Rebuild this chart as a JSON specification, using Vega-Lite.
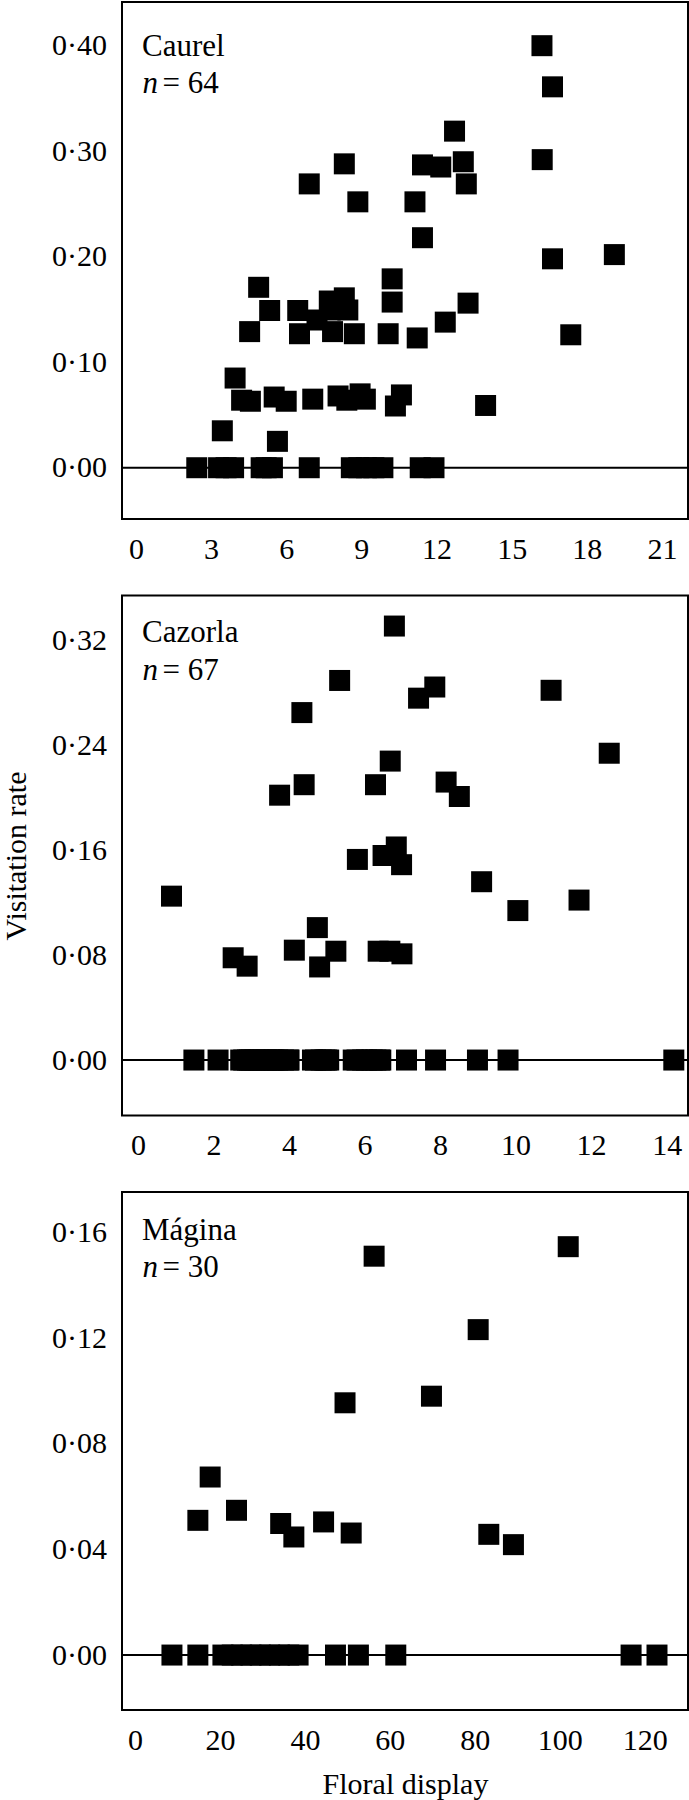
{
  "$schema": "https://vega.github.io/schema/vega-lite/v6.json",
  "padding": {"left": 0, "top": 1, "right": 1, "bottom": 0},
  "background": "white",
  "spacing": 76.5,
  "bounds": "flush",
  "config": {
    "view": {"stroke": "black", "strokeWidth": 2},
    "font": "Liberation Serif",
    "axis": {"domain": false, "ticks": false, "grid": false, "labelFont": "Liberation Serif", "labelFontSize": 30, "labelColor": "black", "titleFont": "Liberation Serif", "titleFontSize": 30, "titleFontWeight": "normal", "titleColor": "black", "labelOverlap": false, "labelFlush": false},
    "axisY": {"labelPadding": 15.5},
    "axisX": {"labelPadding": 30, "labelBaseline": "middle"},
    "text": {"font": "Liberation Serif", "fontSize": 31, "color": "black", "align": "left", "baseline": "alphabetic"}
  },
  "datasets": {
    "caurel": [
      {"display": 16.21, "rate": 0.400}, {"display": 16.63, "rate": 0.361}, {"display": 12.72, "rate": 0.319},
      {"display": 8.32, "rate": 0.288}, {"display": 11.44, "rate": 0.287}, {"display": 12.17, "rate": 0.285},
      {"display": 13.07, "rate": 0.290}, {"display": 16.22, "rate": 0.292}, {"display": 6.92, "rate": 0.269},
      {"display": 13.19, "rate": 0.269}, {"display": 8.86, "rate": 0.252}, {"display": 11.14, "rate": 0.252},
      {"display": 11.44, "rate": 0.218}, {"display": 16.63, "rate": 0.198}, {"display": 19.1, "rate": 0.202},
      {"display": 4.90, "rate": 0.171}, {"display": 10.23, "rate": 0.179},
      {"display": 5.34, "rate": 0.149}, {"display": 6.46, "rate": 0.149}, {"display": 7.72, "rate": 0.158},
      {"display": 8.32, "rate": 0.161}, {"display": 8.46, "rate": 0.1495}, {"display": 7.23, "rate": 0.140},
      {"display": 10.23, "rate": 0.157}, {"display": 13.26, "rate": 0.156}, {"display": 4.54, "rate": 0.129},
      {"display": 6.53, "rate": 0.127}, {"display": 7.85, "rate": 0.129}, {"display": 8.72, "rate": 0.127},
      {"display": 10.07, "rate": 0.127}, {"display": 11.23, "rate": 0.123}, {"display": 12.35, "rate": 0.138},
      {"display": 17.36, "rate": 0.126}, {"display": 7.76, "rate": 0.1495},
      {"display": 3.96, "rate": 0.085}, {"display": 4.22, "rate": 0.064}, {"display": 4.57, "rate": 0.063},
      {"display": 5.52, "rate": 0.067}, {"display": 6.0, "rate": 0.063}, {"display": 7.06, "rate": 0.065},
      {"display": 8.07, "rate": 0.068}, {"display": 8.42, "rate": 0.064}, {"display": 8.95, "rate": 0.070},
      {"display": 9.16, "rate": 0.065}, {"display": 10.6, "rate": 0.069}, {"display": 10.36, "rate": 0.0585},
      {"display": 13.96, "rate": 0.059}, {"display": 3.45, "rate": 0.035}, {"display": 5.65, "rate": 0.025},
      {"display": 2.43, "rate": 0}, {"display": 3.3, "rate": 0}, {"display": 3.6, "rate": 0},
      {"display": 3.9, "rate": 0}, {"display": 5.0, "rate": 0}, {"display": 5.2, "rate": 0},
      {"display": 5.45, "rate": 0}, {"display": 6.92, "rate": 0}, {"display": 8.6, "rate": 0},
      {"display": 8.9, "rate": 0}, {"display": 9.2, "rate": 0}, {"display": 9.5, "rate": 0},
      {"display": 9.86, "rate": 0}, {"display": 11.35, "rate": 0}, {"display": 11.9, "rate": 0}
    ],
    "cazorla": [
      {"display": 6.79, "rate": 0.331}, {"display": 5.34, "rate": 0.2895}, {"display": 7.86, "rate": 0.2845},
      {"display": 7.43, "rate": 0.276}, {"display": 10.94, "rate": 0.282}, {"display": 4.34, "rate": 0.265},
      {"display": 12.48, "rate": 0.234}, {"display": 6.68, "rate": 0.228}, {"display": 4.40, "rate": 0.210},
      {"display": 3.75, "rate": 0.202}, {"display": 6.29, "rate": 0.210}, {"display": 8.16, "rate": 0.212},
      {"display": 8.51, "rate": 0.201}, {"display": 6.84, "rate": 0.1625}, {"display": 6.49, "rate": 0.156},
      {"display": 5.81, "rate": 0.153}, {"display": 6.98, "rate": 0.149}, {"display": 9.1, "rate": 0.136},
      {"display": 0.887, "rate": 0.125}, {"display": 10.06, "rate": 0.114}, {"display": 11.68, "rate": 0.122},
      {"display": 4.75, "rate": 0.101}, {"display": 2.52, "rate": 0.078}, {"display": 2.89, "rate": 0.0716},
      {"display": 4.14, "rate": 0.0838}, {"display": 4.81, "rate": 0.071}, {"display": 5.24, "rate": 0.083},
      {"display": 6.36, "rate": 0.083}, {"display": 6.67, "rate": 0.083}, {"display": 6.99, "rate": 0.081},
      {"display": 1.48, "rate": 0}, {"display": 2.12, "rate": 0}, {"display": 2.72, "rate": 0},
      {"display": 2.95, "rate": 0}, {"display": 3.2, "rate": 0}, {"display": 3.45, "rate": 0},
      {"display": 3.7, "rate": 0}, {"display": 3.98, "rate": 0}, {"display": 4.62, "rate": 0},
      {"display": 4.85, "rate": 0}, {"display": 5.05, "rate": 0}, {"display": 5.70, "rate": 0},
      {"display": 5.95, "rate": 0}, {"display": 6.2, "rate": 0}, {"display": 6.43, "rate": 0},
      {"display": 7.11, "rate": 0}, {"display": 7.88, "rate": 0}, {"display": 8.99, "rate": 0},
      {"display": 9.8, "rate": 0}, {"display": 14.19, "rate": 0}, {"display": 2.8, "rate": 0},
      {"display": 3.0, "rate": 0}, {"display": 3.3, "rate": 0}, {"display": 3.55, "rate": 0},
      {"display": 3.85, "rate": 0}, {"display": 4.7, "rate": 0}, {"display": 4.95, "rate": 0},
      {"display": 5.8, "rate": 0}, {"display": 6.05, "rate": 0}, {"display": 6.3, "rate": 0},
      {"display": 3.1, "rate": 0}, {"display": 3.6, "rate": 0}, {"display": 2.9, "rate": 0},
      {"display": 4.0, "rate": 0}, {"display": 5.0, "rate": 0}, {"display": 6.4, "rate": 0},
      {"display": 3.4, "rate": 0}
    ],
    "magina": [
      {"display": 56.3, "rate": 0.151}, {"display": 102, "rate": 0.1546}, {"display": 80.8, "rate": 0.1232},
      {"display": 49.45, "rate": 0.0955}, {"display": 69.8, "rate": 0.098}, {"display": 17.7, "rate": 0.0674},
      {"display": 14.8, "rate": 0.051}, {"display": 23.9, "rate": 0.0548}, {"display": 34.3, "rate": 0.0498},
      {"display": 37.4, "rate": 0.0447}, {"display": 44.4, "rate": 0.0504}, {"display": 50.9, "rate": 0.0462},
      {"display": 83.3, "rate": 0.0457}, {"display": 89.1, "rate": 0.0418},
      {"display": 8.7, "rate": 0}, {"display": 14.8, "rate": 0}, {"display": 20.7, "rate": 0},
      {"display": 22.9, "rate": 0}, {"display": 25.1, "rate": 0}, {"display": 27.3, "rate": 0},
      {"display": 29.5, "rate": 0}, {"display": 31.7, "rate": 0}, {"display": 34.0, "rate": 0},
      {"display": 36.2, "rate": 0}, {"display": 38.4, "rate": 0}, {"display": 47.2, "rate": 0},
      {"display": 52.6, "rate": 0}, {"display": 61.4, "rate": 0}, {"display": 116.8, "rate": 0},
      {"display": 122.9, "rate": 0}
    ]
  },
  "vconcat": [
    {
      "width": 566, "height": 517,
      "layer": [
        {"data": {"values": [{}]}, "mark": {"type": "rule", "color": "black", "strokeWidth": 2},
          "encoding": {"y": {"datum": 0, "type": "quantitative", "scale": {"domain": [-0.0486, 0.4414], "nice": false, "zero": false}, "axis": {"values": [0, 0.1, 0.2, 0.3, 0.4], "title": null, "labelExpr": "replace(format(datum.value, '.2f'), '.', '·')"}}}},
        {"data": {"name": "caurel"}, "mark": {"type": "square", "size": 441, "color": "black", "opacity": 1},
          "encoding": {
            "x": {"field": "display", "type": "quantitative", "scale": {"domain": [-0.555, 22.04], "nice": false, "zero": false}, "axis": {"values": [0, 3, 6, 9, 12, 15, 18, 21], "title": null}},
            "y": {"field": "rate", "type": "quantitative", "scale": {"domain": [-0.0486, 0.4414], "nice": false, "zero": false}, "axis": {"values": [0, 0.1, 0.2, 0.3, 0.4], "title": null, "labelExpr": "replace(format(datum.value, '.2f'), '.', '·')"}}
          }},
        {"data": {"values": [{"label": "Caurel"}]}, "mark": {"type": "text"},
          "encoding": {
            "x": {"datum": 0.243, "type": "quantitative", "scale": {"domain": [-0.555, 22.04], "nice": false, "zero": false}, "axis": {"values": [0, 3, 6, 9, 12, 15, 18, 21], "title": null}},
            "y": {"datum": 0.390, "type": "quantitative", "scale": {"domain": [-0.0486, 0.4414], "nice": false, "zero": false}, "axis": {"values": [0, 0.1, 0.2, 0.3, 0.4], "title": null, "labelExpr": "replace(format(datum.value, '.2f'), '.', '·')"}},
            "text": {"field": "label"}
          }},
        {"data": {"values": [{"label": "n"}]}, "mark": {"type": "text", "fontStyle": "italic"},
          "encoding": {
            "x": {"datum": 0.263, "type": "quantitative", "scale": {"domain": [-0.555, 22.04], "nice": false, "zero": false}, "axis": {"values": [0, 3, 6, 9, 12, 15, 18, 21], "title": null}},
            "y": {"datum": 0.3555, "type": "quantitative", "scale": {"domain": [-0.0486, 0.4414], "nice": false, "zero": false}, "axis": {"values": [0, 0.1, 0.2, 0.3, 0.4], "title": null, "labelExpr": "replace(format(datum.value, '.2f'), '.', '·')"}},
            "text": {"field": "label"}
          }},
        {"data": {"values": [{"label": "= 64"}]}, "mark": {"type": "text"},
          "encoding": {
            "x": {"datum": 1.062, "type": "quantitative", "scale": {"domain": [-0.555, 22.04], "nice": false, "zero": false}, "axis": {"values": [0, 3, 6, 9, 12, 15, 18, 21], "title": null}},
            "y": {"datum": 0.3555, "type": "quantitative", "scale": {"domain": [-0.0486, 0.4414], "nice": false, "zero": false}, "axis": {"values": [0, 0.1, 0.2, 0.3, 0.4], "title": null, "labelExpr": "replace(format(datum.value, '.2f'), '.', '·')"}},
            "text": {"field": "label"}
          }}
      ]
    },
    {
      "width": 566, "height": 520,
      "layer": [
        {"data": {"values": [{}]}, "mark": {"type": "rule", "color": "black", "strokeWidth": 2},
          "encoding": {"y": {"datum": 0, "type": "quantitative", "scale": {"domain": [-0.0423, 0.3543], "nice": false, "zero": false}, "axis": {"values": [0, 0.08, 0.16, 0.24, 0.32], "title": "Visitation rate", "titlePadding": 20, "labelExpr": "replace(format(datum.value, '.2f'), '.', '·')"}}}},
        {"data": {"name": "cazorla"}, "mark": {"type": "square", "size": 441, "color": "black", "opacity": 1},
          "encoding": {
            "x": {"field": "display", "type": "quantitative", "scale": {"domain": [-0.424, 14.566], "nice": false, "zero": false}, "axis": {"values": [0, 2, 4, 6, 8, 10, 12, 14], "title": null}},
            "y": {"field": "rate", "type": "quantitative", "scale": {"domain": [-0.0423, 0.3543], "nice": false, "zero": false}, "axis": {"values": [0, 0.08, 0.16, 0.24, 0.32], "title": "Visitation rate", "titlePadding": 20, "labelExpr": "replace(format(datum.value, '.2f'), '.', '·')"}}
          }},
        {"data": {"values": [{"label": "Cazorla"}]}, "mark": {"type": "text"},
          "encoding": {
            "x": {"datum": 0.106, "type": "quantitative", "scale": {"domain": [-0.424, 14.566], "nice": false, "zero": false}, "axis": {"values": [0, 2, 4, 6, 8, 10, 12, 14], "title": null}},
            "y": {"datum": 0.3185, "type": "quantitative", "scale": {"domain": [-0.0423, 0.3543], "nice": false, "zero": false}, "axis": {"values": [0, 0.08, 0.16, 0.24, 0.32], "title": "Visitation rate", "titlePadding": 20, "labelExpr": "replace(format(datum.value, '.2f'), '.', '·')"}},
            "text": {"field": "label"}
          }},
        {"data": {"values": [{"label": "n"}]}, "mark": {"type": "text", "fontStyle": "italic"},
          "encoding": {
            "x": {"datum": 0.119, "type": "quantitative", "scale": {"domain": [-0.424, 14.566], "nice": false, "zero": false}, "axis": {"values": [0, 2, 4, 6, 8, 10, 12, 14], "title": null}},
            "y": {"datum": 0.2895, "type": "quantitative", "scale": {"domain": [-0.0423, 0.3543], "nice": false, "zero": false}, "axis": {"values": [0, 0.08, 0.16, 0.24, 0.32], "title": "Visitation rate", "titlePadding": 20, "labelExpr": "replace(format(datum.value, '.2f'), '.', '·')"}},
            "text": {"field": "label"}
          }},
        {"data": {"values": [{"label": "= 67"}]}, "mark": {"type": "text"},
          "encoding": {
            "x": {"datum": 0.649, "type": "quantitative", "scale": {"domain": [-0.424, 14.566], "nice": false, "zero": false}, "axis": {"values": [0, 2, 4, 6, 8, 10, 12, 14], "title": null}},
            "y": {"datum": 0.2895, "type": "quantitative", "scale": {"domain": [-0.0423, 0.3543], "nice": false, "zero": false}, "axis": {"values": [0, 0.08, 0.16, 0.24, 0.32], "title": "Visitation rate", "titlePadding": 20, "labelExpr": "replace(format(datum.value, '.2f'), '.', '·')"}},
            "text": {"field": "label"}
          }}
      ]
    },
    {
      "width": 566, "height": 518,
      "layer": [
        {"data": {"values": [{}]}, "mark": {"type": "rule", "color": "black", "strokeWidth": 2},
          "encoding": {"y": {"datum": 0, "type": "quantitative", "scale": {"domain": [-0.0208, 0.1753], "nice": false, "zero": false}, "axis": {"values": [0, 0.04, 0.08, 0.12, 0.16], "title": null, "labelExpr": "replace(format(datum.value, '.2f'), '.', '·')"}}}},
        {"data": {"name": "magina"}, "mark": {"type": "square", "size": 441, "color": "black", "opacity": 1},
          "encoding": {
            "x": {"field": "display", "type": "quantitative", "scale": {"domain": [-3.06, 130.2], "nice": false, "zero": false}, "axis": {"values": [0, 20, 40, 60, 80, 100, 120], "title": "Floral display", "titlePadding": 14}},
            "y": {"field": "rate", "type": "quantitative", "scale": {"domain": [-0.0208, 0.1753], "nice": false, "zero": false}, "axis": {"values": [0, 0.04, 0.08, 0.12, 0.16], "title": null, "labelExpr": "replace(format(datum.value, '.2f'), '.', '·')"}}
          }},
        {"data": {"values": [{"label": "Mágina"}]}, "mark": {"type": "text"},
          "encoding": {
            "x": {"datum": 1.65, "type": "quantitative", "scale": {"domain": [-3.06, 130.2], "nice": false, "zero": false}, "axis": {"values": [0, 20, 40, 60, 80, 100, 120], "title": "Floral display", "titlePadding": 14}},
            "y": {"datum": 0.1572, "type": "quantitative", "scale": {"domain": [-0.0208, 0.1753], "nice": false, "zero": false}, "axis": {"values": [0, 0.04, 0.08, 0.12, 0.16], "title": null, "labelExpr": "replace(format(datum.value, '.2f'), '.', '·')"}},
            "text": {"field": "label"}
          }},
        {"data": {"values": [{"label": "n"}]}, "mark": {"type": "text", "fontStyle": "italic"},
          "encoding": {
            "x": {"datum": 1.766, "type": "quantitative", "scale": {"domain": [-3.06, 130.2], "nice": false, "zero": false}, "axis": {"values": [0, 20, 40, 60, 80, 100, 120], "title": "Floral display", "titlePadding": 14}},
            "y": {"datum": 0.1430, "type": "quantitative", "scale": {"domain": [-0.0208, 0.1753], "nice": false, "zero": false}, "axis": {"values": [0, 0.04, 0.08, 0.12, 0.16], "title": null, "labelExpr": "replace(format(datum.value, '.2f'), '.', '·')"}},
            "text": {"field": "label"}
          }},
        {"data": {"values": [{"label": "= 30"}]}, "mark": {"type": "text"},
          "encoding": {
            "x": {"datum": 6.475, "type": "quantitative", "scale": {"domain": [-3.06, 130.2], "nice": false, "zero": false}, "axis": {"values": [0, 20, 40, 60, 80, 100, 120], "title": "Floral display", "titlePadding": 14}},
            "y": {"datum": 0.1430, "type": "quantitative", "scale": {"domain": [-0.0208, 0.1753], "nice": false, "zero": false}, "axis": {"values": [0, 0.04, 0.08, 0.12, 0.16], "title": null, "labelExpr": "replace(format(datum.value, '.2f'), '.', '·')"}},
            "text": {"field": "label"}
          }}
      ]
    }
  ]
}
